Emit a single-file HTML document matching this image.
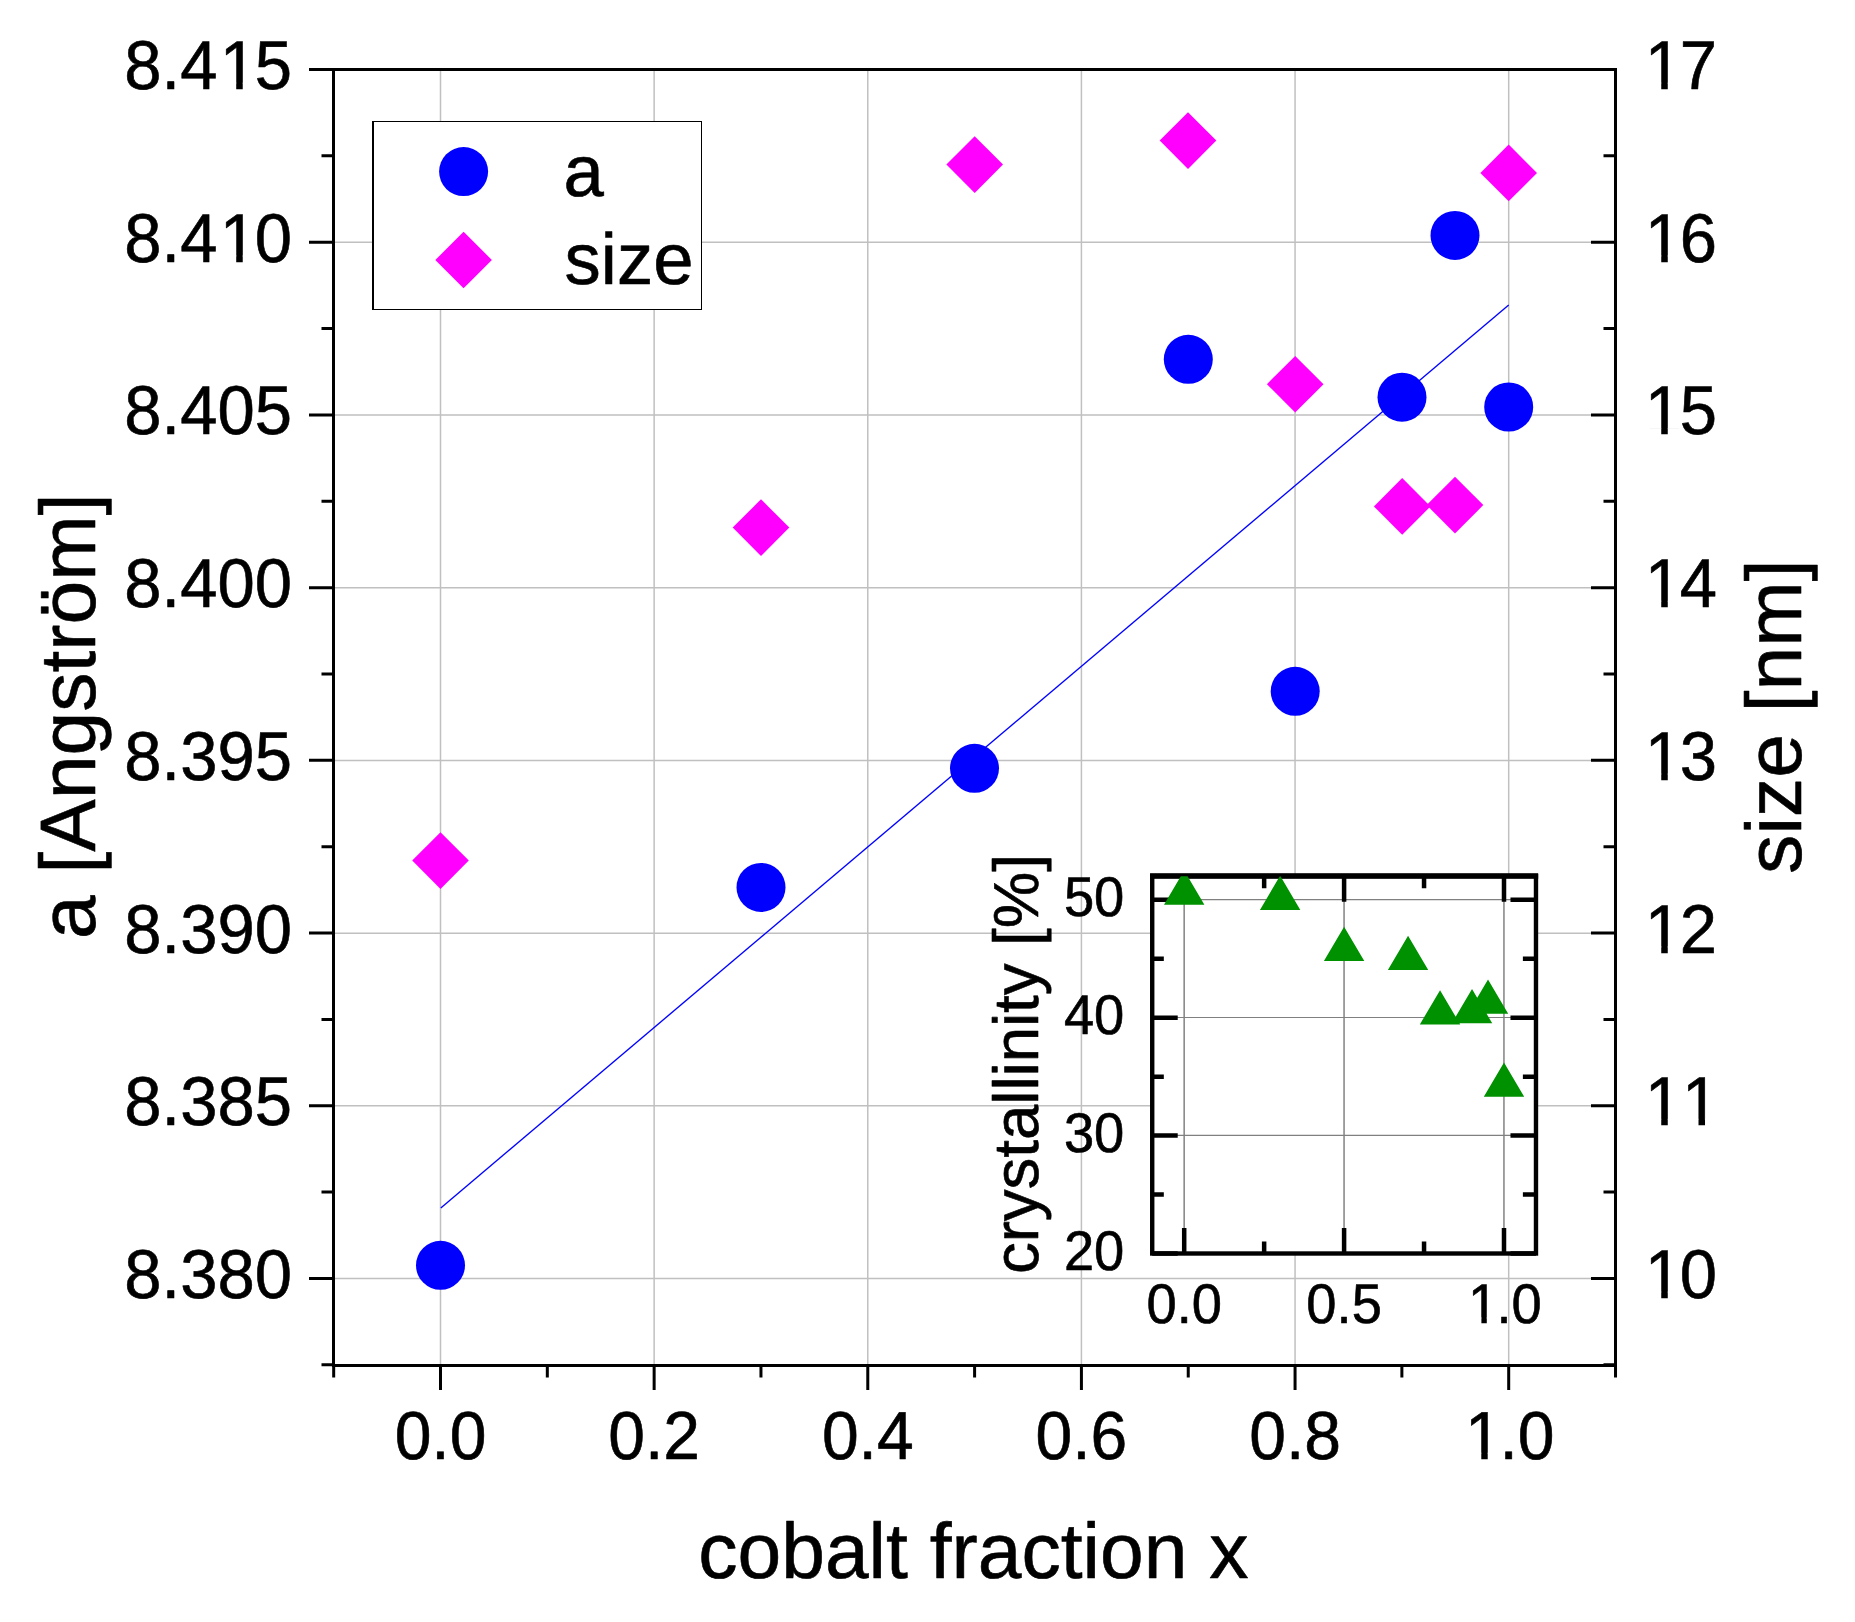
<!DOCTYPE html><html><head><meta charset="utf-8"><title>cobalt fraction plot</title><style>html,body{margin:0;padding:0;background:#fff;}svg{display:block;}text{font-family:'Liberation Sans', Arial, sans-serif;fill:#000;stroke:#000;stroke-width:0.6px;stroke-linejoin:round;text-rendering:geometricPrecision;}</style></head><body>
<svg width="1855" height="1622" viewBox="0 0 1855 1622">
<rect x="0" y="0" width="1855" height="1622" fill="#fff"/>
<path d="M440.50 69.5V1365.5M654.14 69.5V1365.5M867.78 69.5V1365.5M1081.42 69.5V1365.5M1295.06 69.5V1365.5M1508.70 69.5V1365.5" stroke="#c0c0c0" stroke-width="1.5" fill="none"/>
<path d="M333.5 69.60H1615.5M333.5 242.31H1615.5M333.5 415.02H1615.5M333.5 587.73H1615.5M333.5 760.44H1615.5M333.5 933.15H1615.5M333.5 1105.86H1615.5M333.5 1278.57H1615.5" stroke="#c0c0c0" stroke-width="1.5" fill="none"/>
<path d="M309.00 69.50H333.5M321.50 155.86H333.5M309.00 242.21H333.5M321.50 328.56H333.5M309.00 414.92H333.5M321.50 501.28H333.5M309.00 587.63H333.5M321.50 673.99H333.5M309.00 760.34H333.5M321.50 846.70H333.5M309.00 933.05H333.5M321.50 1019.41H333.5M309.00 1105.76H333.5M321.50 1192.12H333.5M309.00 1278.47H333.5M321.50 1364.83H333.5M1591.00 69.50H1615.5M1603.50 155.86H1615.5M1591.00 242.21H1615.5M1603.50 328.56H1615.5M1591.00 414.92H1615.5M1603.50 501.28H1615.5M1591.00 587.63H1615.5M1603.50 673.99H1615.5M1591.00 760.34H1615.5M1603.50 846.70H1615.5M1591.00 933.05H1615.5M1603.50 1019.41H1615.5M1591.00 1105.76H1615.5M1603.50 1192.12H1615.5M1591.00 1278.47H1615.5M1603.50 1364.83H1615.5M333.68 1365.5V1377.50M440.50 1365.5V1390.00M547.32 1365.5V1377.50M654.14 1365.5V1390.00M760.96 1365.5V1377.50M867.78 1365.5V1390.00M974.60 1365.5V1377.50M1081.42 1365.5V1390.00M1188.24 1365.5V1377.50M1295.06 1365.5V1390.00M1401.88 1365.5V1377.50M1508.70 1365.5V1390.00M1615.52 1365.5V1377.50" stroke="#000" stroke-width="3" fill="none"/>
<rect x="333.5" y="69.5" width="1282.0" height="1296.0" fill="none" stroke="#000" stroke-width="3"/>
<line x1="440.8" y1="1207.9" x2="1508.7" y2="305.0" stroke="#0000ff" stroke-width="1.35"/>
<path d="M440.50 832.30L468.80 860.60L440.50 888.90L412.20 860.60Z" fill="#ff00ff"/>
<path d="M761.00 499.30L789.30 527.60L761.00 555.90L732.70 527.60Z" fill="#ff00ff"/>
<path d="M974.70 136.30L1003.00 164.60L974.70 192.90L946.40 164.60Z" fill="#ff00ff"/>
<path d="M1188.00 112.30L1216.30 140.60L1188.00 168.90L1159.70 140.60Z" fill="#ff00ff"/>
<path d="M1295.20 355.90L1323.50 384.20L1295.20 412.50L1266.90 384.20Z" fill="#ff00ff"/>
<path d="M1402.20 478.10L1430.50 506.40L1402.20 534.70L1373.90 506.40Z" fill="#ff00ff"/>
<path d="M1455.00 476.80L1483.30 505.10L1455.00 533.40L1426.70 505.10Z" fill="#ff00ff"/>
<path d="M1508.70 144.60L1537.00 172.90L1508.70 201.20L1480.40 172.90Z" fill="#ff00ff"/>
<circle cx="440.50" cy="1265.30" r="24.5" fill="#0000ff"/>
<circle cx="761.00" cy="887.40" r="24.5" fill="#0000ff"/>
<circle cx="974.50" cy="768.30" r="24.5" fill="#0000ff"/>
<circle cx="1188.30" cy="359.30" r="24.5" fill="#0000ff"/>
<circle cx="1295.20" cy="691.30" r="24.5" fill="#0000ff"/>
<circle cx="1402.00" cy="397.20" r="24.5" fill="#0000ff"/>
<circle cx="1455.00" cy="235.40" r="24.5" fill="#0000ff"/>
<circle cx="1508.70" cy="407.00" r="24.5" fill="#0000ff"/>
<rect x="372" y="121" width="330" height="189" fill="#fff"/>
<path d="M372 121h330v189h-330z" fill="none"/>
<rect x="372" y="121" width="2" height="189" fill="#000"/>
<rect x="372" y="121" width="330" height="1" fill="#000"/>
<rect x="701" y="121" width="1" height="189" fill="#000"/>
<rect x="372" y="309" width="330" height="1" fill="#000"/>
<circle cx="463.6" cy="171.6" r="24.5" fill="#0000ff"/>
<path d="M463.6 231.7L491.90000000000003 260.0L463.6 288.3L435.3 260.0Z" fill="#ff00ff"/>
<text x="563.5" y="196" font-size="72.5">a</text>
<text x="564.6" y="284.2" font-size="72.5">size</text>
<text transform="translate(95 716.3) rotate(-90)" font-size="78.6" text-anchor="middle">a [Angström]</text>
<text transform="translate(1801 716.7) rotate(-90)" font-size="78.6" text-anchor="middle">size [nm]</text>
<text x="973.4" y="1578.4" font-size="78.6" text-anchor="middle">cobalt fraction x</text>
<rect x="1152.22" y="876.22" width="383.76" height="377.28" fill="#fff"/>
<path d="M1184.15 876.22V1253.50M1344.05 876.22V1253.50M1503.95 876.22V1253.50" stroke="#7a7a7a" stroke-width="1.4" fill="none"/>
<path d="M1152.22 1135.40H1535.98M1152.22 1017.50H1535.98M1152.22 899.60H1535.98" stroke="#808080" stroke-width="1.2" fill="none"/>
<path d="M1152.22 1253.50H1177.72M1535.98 1253.50H1510.48M1152.22 1194.55H1163.82M1535.98 1194.55H1522.88M1152.22 1135.60H1177.72M1535.98 1135.60H1510.48M1152.22 1076.65H1163.82M1535.98 1076.65H1522.88M1152.22 1017.70H1177.72M1535.98 1017.70H1510.48M1152.22 958.75H1163.82M1535.98 958.75H1522.88M1152.22 899.80H1177.72M1535.98 899.80H1510.48M1184.20 1253.50V1228.00M1184.20 876.22V901.72M1264.15 1253.50V1241.50M1264.15 876.22V888.22M1344.10 1253.50V1228.00M1344.10 876.22V901.72M1424.05 1253.50V1241.50M1424.05 876.22V888.22M1504.00 1253.50V1228.00M1504.00 876.22V901.72" stroke="#000" stroke-width="4.5" fill="none"/>
<rect x="1152.22" y="876.22" width="383.76" height="377.28" fill="none" stroke="#000" stroke-width="4.4"/>
<rect x="1150.02" y="873.2" width="388.16" height="5.5" fill="#000"/>
<defs><clipPath id="ic"><rect x="1152.22" y="876.22" width="383.76" height="377.28"/></clipPath></defs>
<path clip-path="url(#ic)" d="M1184.20 870.45L1204.40 904.75L1164.00 904.75ZM1280.14 875.65L1300.34 909.95L1259.94 909.95ZM1344.10 926.80L1364.30 961.10L1323.90 961.10ZM1408.06 935.80L1428.26 970.10L1387.86 970.10ZM1440.04 990.15L1460.24 1024.45L1419.84 1024.45ZM1472.02 988.95L1492.22 1023.25L1451.82 1023.25ZM1488.01 979.55L1508.21 1013.85L1467.81 1013.85ZM1504.00 1062.45L1524.20 1096.75L1483.80 1096.75Z" fill="#009100"/>
<text transform="translate(1038 1064.1) rotate(-90)" font-size="63.5" text-anchor="middle">crystallinity [%]</text>
<defs><mask id="nofoot" maskUnits="userSpaceOnUse" x="0" y="0" width="1855" height="1622"><rect x="0" y="0" width="1855" height="1622" fill="#fff"/><rect x="223.57" y="82.64" width="12.64" height="7.86" fill="#000"/><rect x="242.74" y="82.64" width="12.92" height="7.86" fill="#000"/><rect x="223.57" y="255.35" width="12.64" height="7.86" fill="#000"/><rect x="242.74" y="255.35" width="12.92" height="7.86" fill="#000"/><rect x="1648.60" y="82.64" width="12.64" height="7.86" fill="#000"/><rect x="1667.76" y="82.64" width="12.92" height="7.86" fill="#000"/><rect x="1648.60" y="255.35" width="12.64" height="7.86" fill="#000"/><rect x="1667.76" y="255.35" width="12.92" height="7.86" fill="#000"/><rect x="1648.60" y="428.06" width="12.64" height="7.86" fill="#000"/><rect x="1667.76" y="428.06" width="12.92" height="7.86" fill="#000"/><rect x="1648.60" y="600.77" width="12.64" height="7.86" fill="#000"/><rect x="1667.76" y="600.77" width="12.92" height="7.86" fill="#000"/><rect x="1648.60" y="773.48" width="12.64" height="7.86" fill="#000"/><rect x="1667.76" y="773.48" width="12.92" height="7.86" fill="#000"/><rect x="1648.60" y="946.19" width="12.64" height="7.86" fill="#000"/><rect x="1667.76" y="946.19" width="12.92" height="7.86" fill="#000"/><rect x="1648.60" y="1118.90" width="12.64" height="7.86" fill="#000"/><rect x="1667.76" y="1118.90" width="12.92" height="7.86" fill="#000"/><rect x="1685.86" y="1118.90" width="12.64" height="7.86" fill="#000"/><rect x="1705.02" y="1118.90" width="12.92" height="7.86" fill="#000"/><rect x="1648.60" y="1291.61" width="12.64" height="7.86" fill="#000"/><rect x="1667.76" y="1291.61" width="12.92" height="7.86" fill="#000"/><rect x="1468.82" y="1452.72" width="12.46" height="7.78" fill="#000"/><rect x="1487.71" y="1452.72" width="12.75" height="7.78" fill="#000"/><rect x="1471.01" y="1317.42" width="10.38" height="6.88" fill="#000"/><rect x="1486.79" y="1317.42" width="10.75" height="6.88" fill="#000"/></mask></defs>
<g mask="url(#nofoot)"><text transform="translate(0 89.00) scale(1 1.03)" x="124.34 161.60 180.21 219.67 254.74" y="0" font-size="67">8.415</text><text transform="translate(0 261.71) scale(1 1.03)" x="124.34 161.60 180.21 219.67 254.74" y="0" font-size="67">8.410</text><text transform="translate(0 434.42) scale(1 1.03)" x="124.34 161.60 180.21 217.48 254.74" y="0" font-size="67">8.405</text><text transform="translate(0 607.13) scale(1 1.03)" x="124.34 161.60 180.21 217.48 254.74" y="0" font-size="67">8.400</text><text transform="translate(0 779.84) scale(1 1.03)" x="124.34 161.60 180.21 217.48 254.74" y="0" font-size="67">8.395</text><text transform="translate(0 952.55) scale(1 1.03)" x="124.34 161.60 180.21 217.48 254.74" y="0" font-size="67">8.390</text><text transform="translate(0 1125.26) scale(1 1.03)" x="124.34 161.60 180.21 217.48 254.74" y="0" font-size="67">8.385</text><text transform="translate(0 1297.97) scale(1 1.03)" x="124.34 161.60 180.21 217.48 254.74" y="0" font-size="67">8.380</text><text transform="translate(0 89.00) scale(1 1.03)" x="1644.69 1679.76" y="0" font-size="67">17</text><text transform="translate(0 261.71) scale(1 1.03)" x="1644.69 1679.76" y="0" font-size="67">16</text><text transform="translate(0 434.42) scale(1 1.03)" x="1644.69 1679.76" y="0" font-size="67">15</text><text transform="translate(0 607.13) scale(1 1.03)" x="1644.69 1679.76" y="0" font-size="67">14</text><text transform="translate(0 779.84) scale(1 1.03)" x="1644.69 1679.76" y="0" font-size="67">13</text><text transform="translate(0 952.55) scale(1 1.03)" x="1644.69 1679.76" y="0" font-size="67">12</text><text transform="translate(0 1125.26) scale(1 1.03)" x="1644.69 1681.95" y="0" font-size="67">11</text><text transform="translate(0 1297.97) scale(1 1.03)" x="1644.69 1679.76" y="0" font-size="67">10</text><text transform="translate(0 1459.00) scale(1 1.03)" x="394.63 431.33 449.67" y="0" font-size="66">0.0</text><text transform="translate(0 1459.00) scale(1 1.03)" x="608.27 644.97 663.31" y="0" font-size="66">0.2</text><text transform="translate(0 1459.00) scale(1 1.03)" x="821.91 858.61 876.95" y="0" font-size="66">0.4</text><text transform="translate(0 1459.00) scale(1 1.03)" x="1035.55 1072.25 1090.59" y="0" font-size="66">0.6</text><text transform="translate(0 1459.00) scale(1 1.03)" x="1249.19 1285.89 1304.23" y="0" font-size="66">0.8</text><text transform="translate(0 1459.00) scale(1 1.03)" x="1464.98 1499.53 1517.87" y="0" font-size="66">1.0</text><text transform="translate(0 1269.70) scale(1 1.03)" x="1063.90 1094.10" y="0" font-size="54.3">20</text><text transform="translate(0 1151.80) scale(1 1.03)" x="1063.90 1094.10" y="0" font-size="54.3">30</text><text transform="translate(0 1033.90) scale(1 1.03)" x="1063.90 1094.10" y="0" font-size="54.3">40</text><text transform="translate(0 916.00) scale(1 1.03)" x="1063.90 1094.10" y="0" font-size="54.3">50</text><text transform="translate(0 1322.80) scale(1 1.03)" x="1146.46 1176.66 1191.74" y="0" font-size="54.3">0.0</text><text transform="translate(0 1322.80) scale(1 1.03)" x="1306.36 1336.56 1351.64" y="0" font-size="54.3">0.5</text><text transform="translate(0 1322.80) scale(1 1.03)" x="1468.03 1496.46 1511.54" y="0" font-size="54.3">1.0</text></g>
</svg></body></html>
